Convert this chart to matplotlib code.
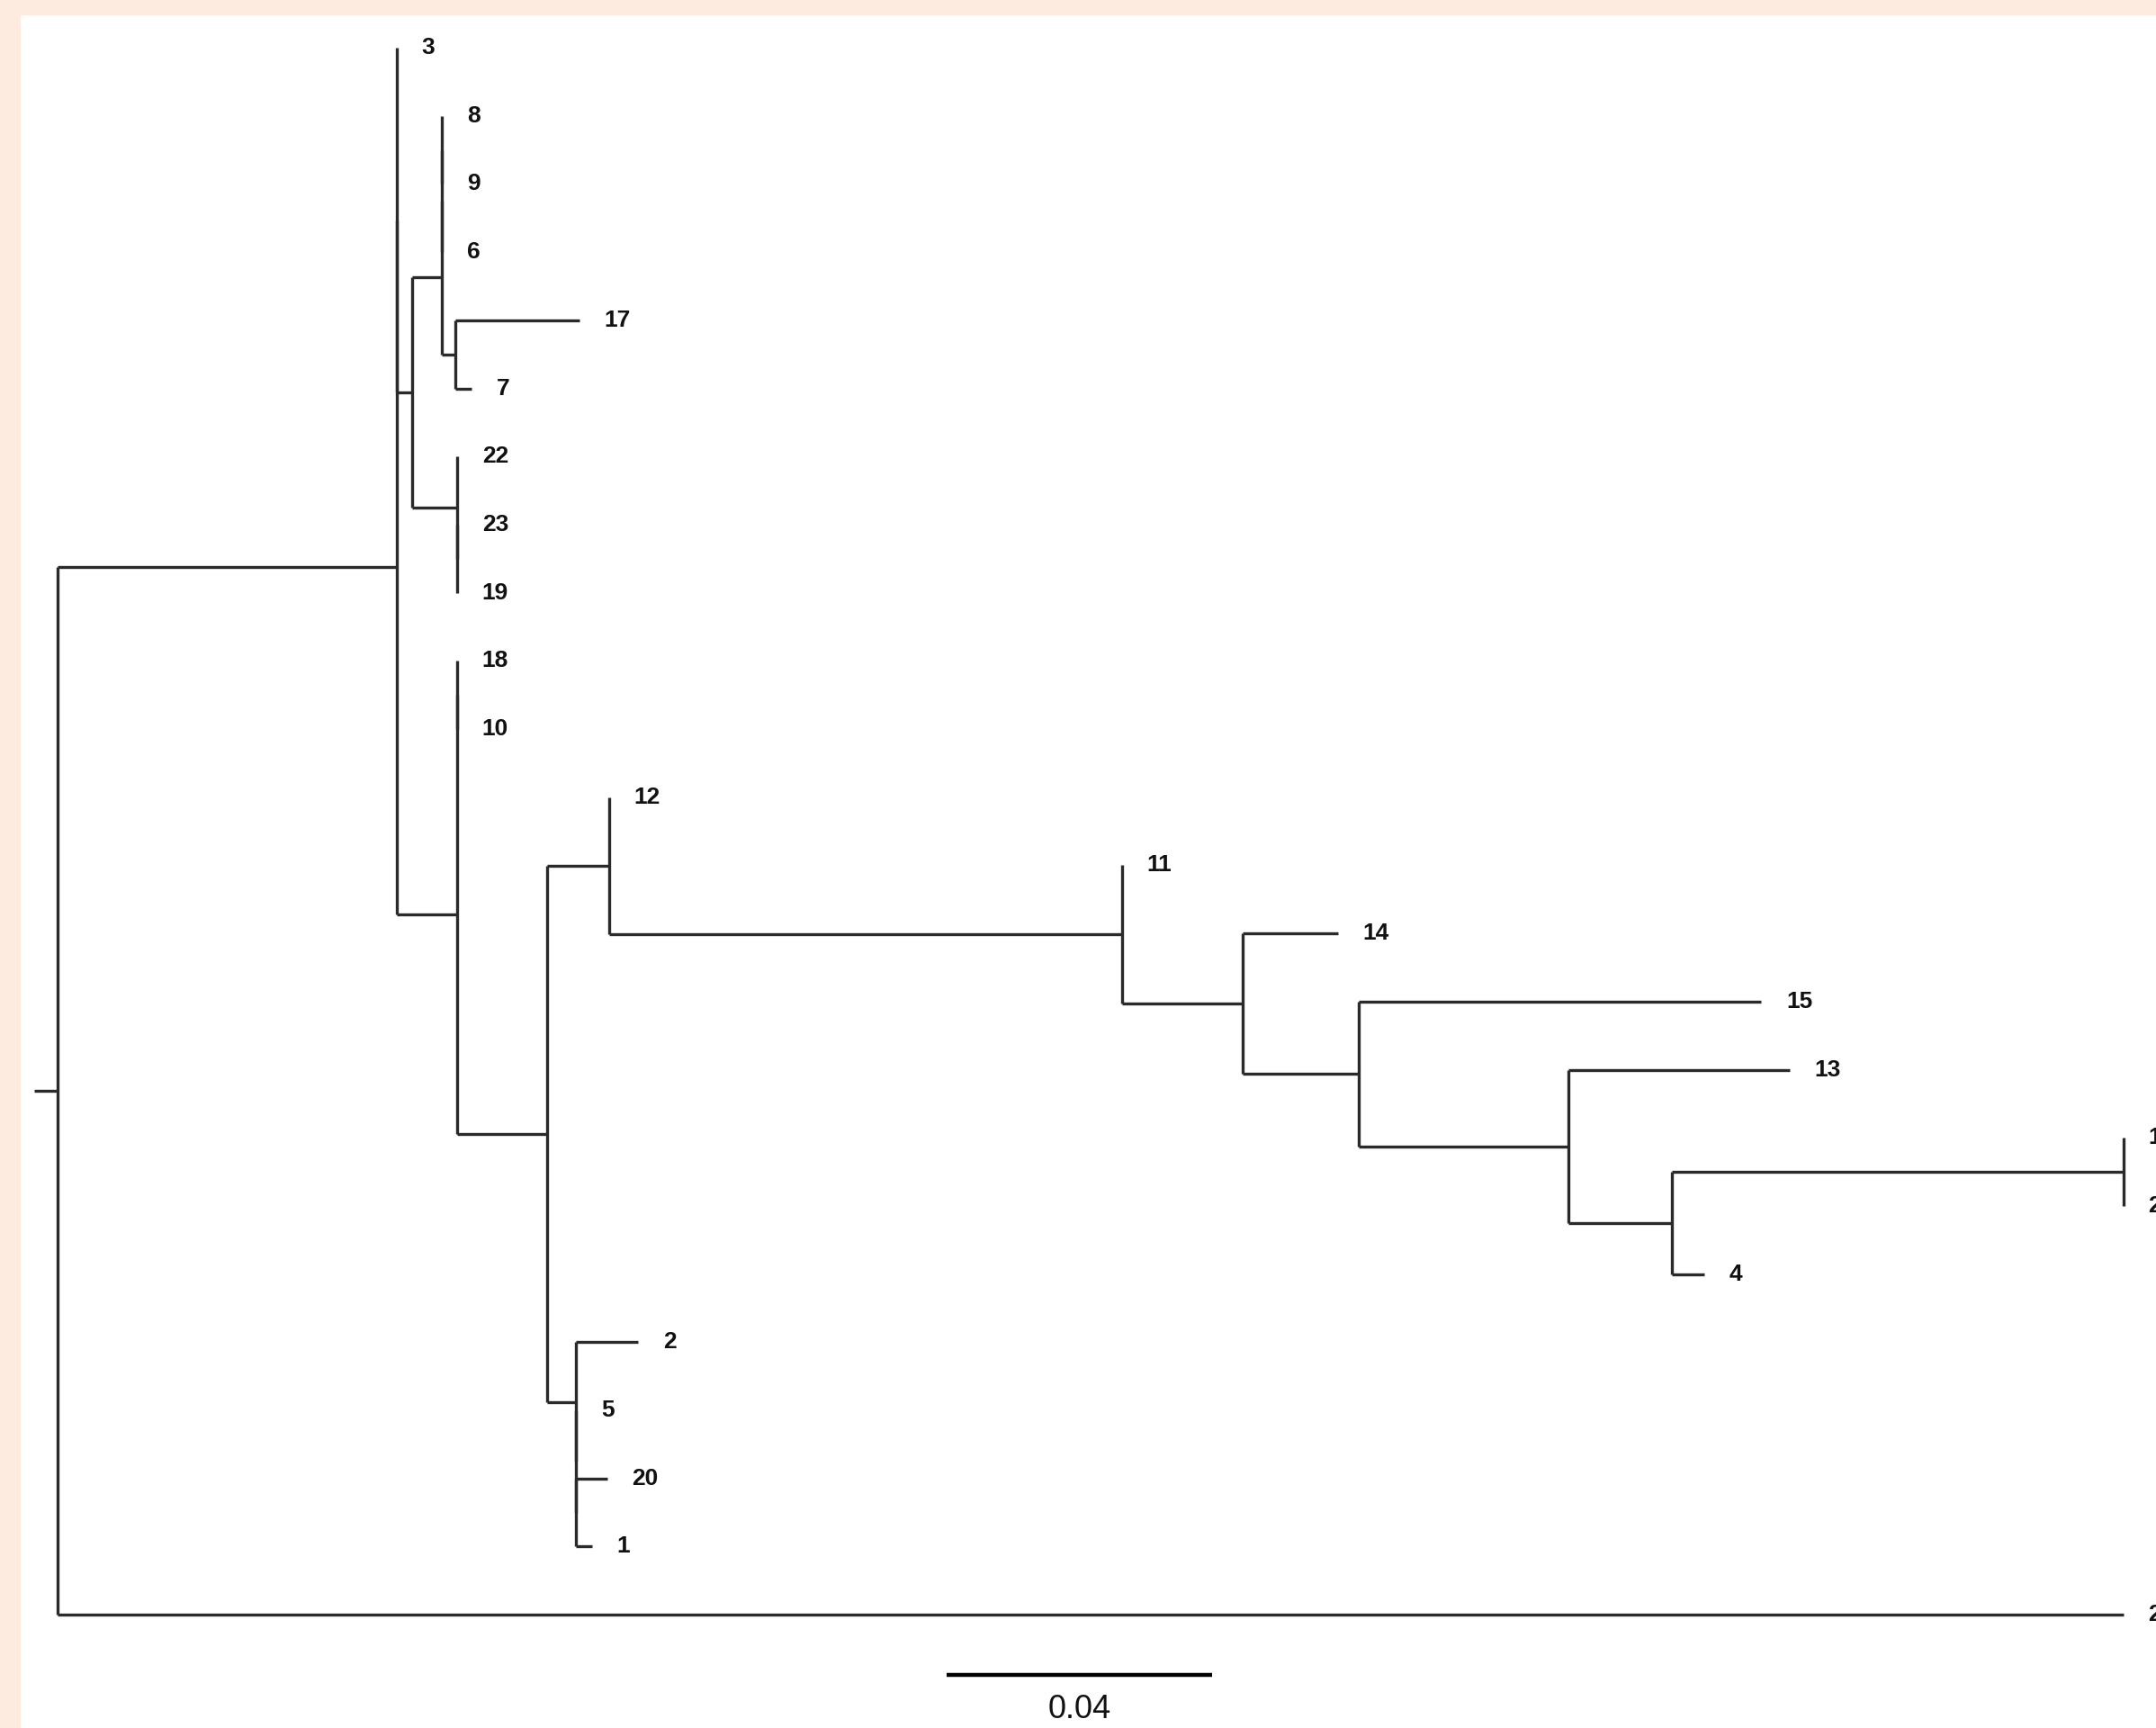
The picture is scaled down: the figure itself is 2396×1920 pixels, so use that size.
import matplotlib
matplotlib.use("Agg")
import matplotlib.pyplot as plt
from matplotlib.patches import Rectangle

# tree: node, parent, branch length (substitutions/site)
nodes = ["root", "A", "AB", "3", "B", "D", "D1", "D2", "8", "9", "6", "F", "17", "7",
         "E", "22", "E1", "23", "19", "C", "C1", "18", "10", "G", "H", "12", "I", "11",
         "J", "14", "K", "15", "L", "13", "M", "N", "16", "21", "4", "O", "2", "O1",
         "5", "O2", "20", "1", "24"]
parents = [None, "root", "A", "AB", "AB", "B", "D", "D1", "D2", "D2", "D1", "D", "F", "F",
           "B", "E", "E", "E1", "E1", "A", "C", "C1", "C1", "C", "G", "H", "H", "I",
           "I", "J", "J", "K", "K", "L", "L", "M", "N", "N", "M", "G", "O", "O",
           "O1", "O1", "O2", "O2", "root"]
lengths = [0.0, 0.0511, 0.0, 0.0, 0.0023, 0.0045, 0.0, 0.0, 0.0, 0.0, 0.0, 0.0020, 0.0187, 0.0025,
           0.0068, 0.0, 0.0, 0.0, 0.0, 0.0091, 0.0, 0.0, 0.0, 0.0136, 0.0093, 0.0, 0.0773, 0.0,
           0.0182, 0.0143, 0.0175, 0.0606, 0.0316, 0.0333, 0.0156, 0.0680, 0.0, 0.0, 0.0048, 0.0043, 0.0094, 0.0,
           0.0, 0.0, 0.0047, 0.0024, 0.3113]
scale_len = 0.04
scale_label = "0.04"

children = {n: [] for n in nodes}
for n, p in zip(nodes, parents):
    if p is not None:
        children[p].append(n)
blen = dict(zip(nodes, lengths))

# x = distance from root, y = leaf order (internal = middle of first and last child)
xpos, ypos = {}, {}
leaf_count = [0]


def layout(n, depth):
    xpos[n] = depth
    if not children[n]:
        ypos[n] = leaf_count[0]
        leaf_count[0] += 1
        return
    for c in children[n]:
        layout(c, depth + blen[c])
    ypos[n] = (ypos[children[n][0]] + ypos[children[n][-1]]) / 2.0


layout("root", 0.0)

W, H = 2396, 1920
fig = plt.figure(figsize=(W / 100, H / 100), dpi=100)
ax = fig.add_axes([0, 0, 1, 1])
ax.set_facecolor("white")

# pixel calibration: root at x=64px, 0.04 = 295px ; first leaf y=53px, step 75.7px
px_per_unit = 295 / 0.04
x0_px = 64
y0_px, dy_px = 53, 75.7
ax.set_xlim(-x0_px / px_per_unit, (W - x0_px) / px_per_unit)
ax.set_ylim((H - y0_px) / dy_px, -y0_px / dy_px)
ax.axis("off")

lc = "#2a2a2a"
lw = 2.4
for n, p in zip(nodes, parents):
    if children[n]:
        ys = [ypos[c] for c in children[n]]
        ax.plot([xpos[n], xpos[n]], [min(ys), max(ys)], color=lc, lw=lw, solid_capstyle="butt")
    if p is not None:
        ax.plot([xpos[p], xpos[n]], [ypos[n], ypos[n]], color=lc, lw=lw, solid_capstyle="butt")
    else:
        ax.plot([xpos[n] - 26 / px_per_unit, xpos[n]], [ypos[n], ypos[n]], color=lc, lw=lw,
                solid_capstyle="butt")
    if not children[n]:
        ax.annotate(n, (xpos[n], ypos[n]), xytext=(20, 0), textcoords="offset points",
                    va="center", ha="left", fontsize=19, fontweight="bold",
                    family="Liberation Sans", color="#111111", annotation_clip=False)

# scale bar
sb_x = (1052 - x0_px) / px_per_unit
sb_y = (1861 - y0_px) / dy_px
ax.plot([sb_x, sb_x + scale_len], [sb_y, sb_y], color="black", lw=3.2, solid_capstyle="butt")
ax.text(sb_x + scale_len / 2, (1900 - y0_px) / dy_px, scale_label, ha="center", va="center",
        fontsize=26, family="Liberation Sans", color="#111111")

# peach page edges
peach = "#FDEBE0"
fig.add_artist(Rectangle((0, 0), 23 / W, 1, transform=fig.transFigure, color=peach, lw=0, zorder=5))
fig.add_artist(Rectangle((0, 1 - 17 / H), 1, 17 / H, transform=fig.transFigure, color=peach, lw=0, zorder=5))

fig.savefig("out.png", dpi=100)
